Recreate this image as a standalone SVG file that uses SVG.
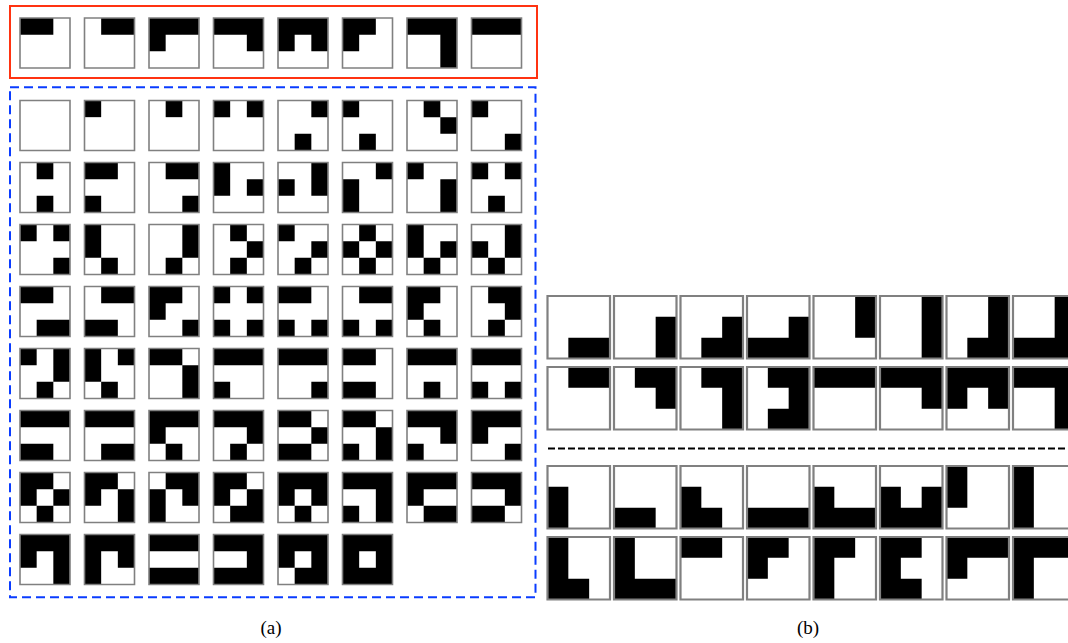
<svg xmlns="http://www.w3.org/2000/svg" width="1068" height="643" viewBox="0 0 1068 643">
<style>
.k{fill:#000}
.f{fill:none;stroke:#808080;stroke-width:1.6;vector-effect:non-scaling-stroke}
.fb{fill:none;stroke:#808080;stroke-width:2.2;vector-effect:non-scaling-stroke}
.lbl{font-family:"Liberation Serif",serif;font-size:19px;fill:#000;text-anchor:middle}
</style>
<rect width="1068" height="643" fill="#fff"/>
<g id="frames">
<rect x="10" y="6" width="527" height="72" fill="none" stroke="#ff3311" stroke-width="2"/>
<rect x="10" y="87.3" width="525.5" height="510" fill="none" stroke="#0a3cff" stroke-width="2" stroke-dasharray="9 5"/>
<line x1="548" y1="448.5" x2="1068" y2="448.5" stroke="#000" stroke-width="2" stroke-dasharray="7 3"/>
</g>
<!-- (a) red row -->
<g id="a-red-1" transform="translate(20,18) scale(16.6667)"><path class="k" d="M0 0h1v1h-1zM1 0h1v1h-1z"/><rect class="f" width="3" height="3"/></g>
<g id="a-red-2" transform="translate(84.5,18) scale(16.6667)"><path class="k" d="M1 0h1v1h-1zM2 0h1v1h-1z"/><rect class="f" width="3" height="3"/></g>
<g id="a-red-3" transform="translate(149,18) scale(16.6667)"><path class="k" d="M0 0h1v1h-1zM1 0h1v1h-1zM2 0h1v1h-1zM0 1h1v1h-1z"/><rect class="f" width="3" height="3"/></g>
<g id="a-red-4" transform="translate(213.5,18) scale(16.6667)"><path class="k" d="M0 0h1v1h-1zM1 0h1v1h-1zM2 0h1v1h-1zM2 1h1v1h-1z"/><rect class="f" width="3" height="3"/></g>
<g id="a-red-5" transform="translate(278,18) scale(16.6667)"><path class="k" d="M0 0h1v1h-1zM1 0h1v1h-1zM2 0h1v1h-1zM0 1h1v1h-1zM2 1h1v1h-1z"/><rect class="f" width="3" height="3"/></g>
<g id="a-red-6" transform="translate(342.5,18) scale(16.6667)"><path class="k" d="M0 0h1v1h-1zM1 0h1v1h-1zM0 1h1v1h-1z"/><rect class="f" width="3" height="3"/></g>
<g id="a-red-7" transform="translate(407,18) scale(16.6667)"><path class="k" d="M0 0h1v1h-1zM1 0h1v1h-1zM2 0h1v1h-1zM2 1h1v1h-1zM2 2h1v1h-1z"/><rect class="f" width="3" height="3"/></g>
<g id="a-red-8" transform="translate(471.5,18) scale(16.6667)"><path class="k" d="M0 0h1v1h-1zM1 0h1v1h-1zM2 0h1v1h-1z"/><rect class="f" width="3" height="3"/></g>
<!-- (a) blue row 1 -->
<g id="a-1-1" transform="translate(20,100.5) scale(16.6667)"><rect class="f" width="3" height="3"/></g>
<g id="a-1-2" transform="translate(84.5,100.5) scale(16.6667)"><path class="k" d="M0 0h1v1h-1z"/><rect class="f" width="3" height="3"/></g>
<g id="a-1-3" transform="translate(149,100.5) scale(16.6667)"><path class="k" d="M1 0h1v1h-1z"/><rect class="f" width="3" height="3"/></g>
<g id="a-1-4" transform="translate(213.5,100.5) scale(16.6667)"><path class="k" d="M0 0h1v1h-1zM2 0h1v1h-1z"/><rect class="f" width="3" height="3"/></g>
<g id="a-1-5" transform="translate(278,100.5) scale(16.6667)"><path class="k" d="M2 0h1v1h-1zM1 2h1v1h-1z"/><rect class="f" width="3" height="3"/></g>
<g id="a-1-6" transform="translate(342.5,100.5) scale(16.6667)"><path class="k" d="M0 0h1v1h-1zM1 2h1v1h-1z"/><rect class="f" width="3" height="3"/></g>
<g id="a-1-7" transform="translate(407,100.5) scale(16.6667)"><path class="k" d="M1 0h1v1h-1zM2 1h1v1h-1z"/><rect class="f" width="3" height="3"/></g>
<g id="a-1-8" transform="translate(471.5,100.5) scale(16.6667)"><path class="k" d="M0 0h1v1h-1zM2 2h1v1h-1z"/><rect class="f" width="3" height="3"/></g>
<!-- row 2 -->
<g id="a-2-1" transform="translate(20,162.5) scale(16.6667)"><path class="k" d="M1 0h1v1h-1zM1 2h1v1h-1z"/><rect class="f" width="3" height="3"/></g>
<g id="a-2-2" transform="translate(84.5,162.5) scale(16.6667)"><path class="k" d="M0 0h1v1h-1zM1 0h1v1h-1zM0 2h1v1h-1z"/><rect class="f" width="3" height="3"/></g>
<g id="a-2-3" transform="translate(149,162.5) scale(16.6667)"><path class="k" d="M1 0h1v1h-1zM2 0h1v1h-1zM2 2h1v1h-1z"/><rect class="f" width="3" height="3"/></g>
<g id="a-2-4" transform="translate(213.5,162.5) scale(16.6667)"><path class="k" d="M0 0h1v1h-1zM0 1h1v1h-1zM2 1h1v1h-1z"/><rect class="f" width="3" height="3"/></g>
<g id="a-2-5" transform="translate(278,162.5) scale(16.6667)"><path class="k" d="M2 0h1v1h-1zM0 1h1v1h-1zM2 1h1v1h-1z"/><rect class="f" width="3" height="3"/></g>
<g id="a-2-6" transform="translate(342.5,162.5) scale(16.6667)"><path class="k" d="M2 0h1v1h-1zM0 1h1v1h-1zM0 2h1v1h-1z"/><rect class="f" width="3" height="3"/></g>
<g id="a-2-7" transform="translate(407,162.5) scale(16.6667)"><path class="k" d="M0 0h1v1h-1zM2 1h1v1h-1zM2 2h1v1h-1z"/><rect class="f" width="3" height="3"/></g>
<g id="a-2-8" transform="translate(471.5,162.5) scale(16.6667)"><path class="k" d="M0 0h1v1h-1zM2 0h1v1h-1zM1 2h1v1h-1z"/><rect class="f" width="3" height="3"/></g>
<!-- row 3 -->
<g id="a-3-1" transform="translate(20,224.5) scale(16.6667)"><path class="k" d="M0 0h1v1h-1zM2 0h1v1h-1zM2 2h1v1h-1z"/><rect class="f" width="3" height="3"/></g>
<g id="a-3-2" transform="translate(84.5,224.5) scale(16.6667)"><path class="k" d="M0 0h1v1h-1zM0 1h1v1h-1zM1 2h1v1h-1z"/><rect class="f" width="3" height="3"/></g>
<g id="a-3-3" transform="translate(149,224.5) scale(16.6667)"><path class="k" d="M2 0h1v1h-1zM2 1h1v1h-1zM1 2h1v1h-1z"/><rect class="f" width="3" height="3"/></g>
<g id="a-3-4" transform="translate(213.5,224.5) scale(16.6667)"><path class="k" d="M1 0h1v1h-1zM2 1h1v1h-1zM1 2h1v1h-1z"/><rect class="f" width="3" height="3"/></g>
<g id="a-3-5" transform="translate(278,224.5) scale(16.6667)"><path class="k" d="M0 0h1v1h-1zM2 1h1v1h-1zM1 2h1v1h-1z"/><rect class="f" width="3" height="3"/></g>
<g id="a-3-6" transform="translate(342.5,224.5) scale(16.6667)"><path class="k" d="M1 0h1v1h-1zM0 1h1v1h-1zM2 1h1v1h-1zM1 2h1v1h-1z"/><rect class="f" width="3" height="3"/></g>
<g id="a-3-7" transform="translate(407,224.5) scale(16.6667)"><path class="k" d="M0 0h1v1h-1zM0 1h1v1h-1zM2 1h1v1h-1zM1 2h1v1h-1z"/><rect class="f" width="3" height="3"/></g>
<g id="a-3-8" transform="translate(471.5,224.5) scale(16.6667)"><path class="k" d="M2 0h1v1h-1zM0 1h1v1h-1zM2 1h1v1h-1zM1 2h1v1h-1z"/><rect class="f" width="3" height="3"/></g>
<!-- row 4 -->
<g id="a-4-1" transform="translate(20,286.5) scale(16.6667)"><path class="k" d="M0 0h1v1h-1zM1 0h1v1h-1zM1 2h1v1h-1zM2 2h1v1h-1z"/><rect class="f" width="3" height="3"/></g>
<g id="a-4-2" transform="translate(84.5,286.5) scale(16.6667)"><path class="k" d="M1 0h1v1h-1zM2 0h1v1h-1zM0 2h1v1h-1zM1 2h1v1h-1z"/><rect class="f" width="3" height="3"/></g>
<g id="a-4-3" transform="translate(149,286.5) scale(16.6667)"><path class="k" d="M0 0h1v1h-1zM1 0h1v1h-1zM0 1h1v1h-1zM2 2h1v1h-1z"/><rect class="f" width="3" height="3"/></g>
<g id="a-4-4" transform="translate(213.5,286.5) scale(16.6667)"><path class="k" d="M0 0h1v1h-1zM2 0h1v1h-1zM0 2h1v1h-1zM2 2h1v1h-1z"/><rect class="f" width="3" height="3"/></g>
<g id="a-4-5" transform="translate(278,286.5) scale(16.6667)"><path class="k" d="M0 0h1v1h-1zM1 0h1v1h-1zM0 2h1v1h-1zM2 2h1v1h-1z"/><rect class="f" width="3" height="3"/></g>
<g id="a-4-6" transform="translate(342.5,286.5) scale(16.6667)"><path class="k" d="M1 0h1v1h-1zM2 0h1v1h-1zM0 2h1v1h-1zM2 2h1v1h-1z"/><rect class="f" width="3" height="3"/></g>
<g id="a-4-7" transform="translate(407,286.5) scale(16.6667)"><path class="k" d="M0 0h1v1h-1zM1 0h1v1h-1zM0 1h1v1h-1zM1 2h1v1h-1z"/><rect class="f" width="3" height="3"/></g>
<g id="a-4-8" transform="translate(471.5,286.5) scale(16.6667)"><path class="k" d="M1 0h1v1h-1zM2 0h1v1h-1zM2 1h1v1h-1zM1 2h1v1h-1z"/><rect class="f" width="3" height="3"/></g>
<!-- row 5 -->
<g id="a-5-1" transform="translate(20,348.5) scale(16.6667)"><path class="k" d="M0 0h1v1h-1zM2 0h1v1h-1zM2 1h1v1h-1zM1 2h1v1h-1z"/><rect class="f" width="3" height="3"/></g>
<g id="a-5-2" transform="translate(84.5,348.5) scale(16.6667)"><path class="k" d="M0 0h1v1h-1zM2 0h1v1h-1zM0 1h1v1h-1zM1 2h1v1h-1z"/><rect class="f" width="3" height="3"/></g>
<g id="a-5-3" transform="translate(149,348.5) scale(16.6667)"><path class="k" d="M0 0h1v1h-1zM1 0h1v1h-1zM2 1h1v1h-1zM2 2h1v1h-1z"/><rect class="f" width="3" height="3"/></g>
<g id="a-5-4" transform="translate(213.5,348.5) scale(16.6667)"><path class="k" d="M0 0h1v1h-1zM1 0h1v1h-1zM2 0h1v1h-1zM0 2h1v1h-1z"/><rect class="f" width="3" height="3"/></g>
<g id="a-5-5" transform="translate(278,348.5) scale(16.6667)"><path class="k" d="M0 0h1v1h-1zM1 0h1v1h-1zM2 0h1v1h-1zM2 2h1v1h-1z"/><rect class="f" width="3" height="3"/></g>
<g id="a-5-6" transform="translate(342.5,348.5) scale(16.6667)"><path class="k" d="M0 0h1v1h-1zM1 0h1v1h-1zM0 2h1v1h-1zM1 2h1v1h-1z"/><rect class="f" width="3" height="3"/></g>
<g id="a-5-7" transform="translate(407,348.5) scale(16.6667)"><path class="k" d="M0 0h1v1h-1zM1 0h1v1h-1zM2 0h1v1h-1zM1 2h1v1h-1z"/><rect class="f" width="3" height="3"/></g>
<g id="a-5-8" transform="translate(471.5,348.5) scale(16.6667)"><path class="k" d="M0 0h1v1h-1zM1 0h1v1h-1zM2 0h1v1h-1zM0 2h1v1h-1zM2 2h1v1h-1z"/><rect class="f" width="3" height="3"/></g>
<!-- row 6 -->
<g id="a-6-1" transform="translate(20,410.5) scale(16.6667)"><path class="k" d="M0 0h1v1h-1zM1 0h1v1h-1zM2 0h1v1h-1zM0 2h1v1h-1zM1 2h1v1h-1z"/><rect class="f" width="3" height="3"/></g>
<g id="a-6-2" transform="translate(84.5,410.5) scale(16.6667)"><path class="k" d="M0 0h1v1h-1zM1 0h1v1h-1zM2 0h1v1h-1zM1 2h1v1h-1zM2 2h1v1h-1z"/><rect class="f" width="3" height="3"/></g>
<g id="a-6-3" transform="translate(149,410.5) scale(16.6667)"><path class="k" d="M0 0h1v1h-1zM1 0h1v1h-1zM2 0h1v1h-1zM0 1h1v1h-1zM1 2h1v1h-1z"/><rect class="f" width="3" height="3"/></g>
<g id="a-6-4" transform="translate(213.5,410.5) scale(16.6667)"><path class="k" d="M0 0h1v1h-1zM1 0h1v1h-1zM2 0h1v1h-1zM2 1h1v1h-1zM1 2h1v1h-1z"/><rect class="f" width="3" height="3"/></g>
<g id="a-6-5" transform="translate(278,410.5) scale(16.6667)"><path class="k" d="M0 0h1v1h-1zM1 0h1v1h-1zM2 1h1v1h-1zM0 2h1v1h-1zM1 2h1v1h-1z"/><rect class="f" width="3" height="3"/></g>
<g id="a-6-6" transform="translate(342.5,410.5) scale(16.6667)"><path class="k" d="M0 0h1v1h-1zM1 0h1v1h-1zM2 1h1v1h-1zM0 2h1v1h-1zM2 2h1v1h-1z"/><rect class="f" width="3" height="3"/></g>
<g id="a-6-7" transform="translate(407,410.5) scale(16.6667)"><path class="k" d="M0 0h1v1h-1zM1 0h1v1h-1zM2 0h1v1h-1zM2 1h1v1h-1zM0 2h1v1h-1z"/><rect class="f" width="3" height="3"/></g>
<g id="a-6-8" transform="translate(471.5,410.5) scale(16.6667)"><path class="k" d="M0 0h1v1h-1zM1 0h1v1h-1zM2 0h1v1h-1zM0 1h1v1h-1zM2 2h1v1h-1z"/><rect class="f" width="3" height="3"/></g>
<!-- row 7 -->
<g id="a-7-1" transform="translate(20,472.5) scale(16.6667)"><path class="k" d="M0 0h1v1h-1zM1 0h1v1h-1zM0 1h1v1h-1zM2 1h1v1h-1zM1 2h1v1h-1z"/><rect class="f" width="3" height="3"/></g>
<g id="a-7-2" transform="translate(84.5,472.5) scale(16.6667)"><path class="k" d="M0 0h1v1h-1zM1 0h1v1h-1zM0 1h1v1h-1zM2 1h1v1h-1zM2 2h1v1h-1z"/><rect class="f" width="3" height="3"/></g>
<g id="a-7-3" transform="translate(149,472.5) scale(16.6667)"><path class="k" d="M1 0h1v1h-1zM2 0h1v1h-1zM0 1h1v1h-1zM2 1h1v1h-1zM0 2h1v1h-1z"/><rect class="f" width="3" height="3"/></g>
<g id="a-7-4" transform="translate(213.5,472.5) scale(16.6667)"><path class="k" d="M0 0h1v1h-1zM1 0h1v1h-1zM0 1h1v1h-1zM2 1h1v1h-1zM1 2h1v1h-1zM2 2h1v1h-1z"/><rect class="f" width="3" height="3"/></g>
<g id="a-7-5" transform="translate(278,472.5) scale(16.6667)"><path class="k" d="M0 0h1v1h-1zM1 0h1v1h-1zM2 0h1v1h-1zM0 1h1v1h-1zM2 1h1v1h-1zM1 2h1v1h-1z"/><rect class="f" width="3" height="3"/></g>
<g id="a-7-6" transform="translate(342.5,472.5) scale(16.6667)"><path class="k" d="M0 0h1v1h-1zM1 0h1v1h-1zM2 0h1v1h-1zM2 1h1v1h-1zM0 2h1v1h-1zM2 2h1v1h-1z"/><rect class="f" width="3" height="3"/></g>
<g id="a-7-7" transform="translate(407,472.5) scale(16.6667)"><path class="k" d="M0 0h1v1h-1zM1 0h1v1h-1zM2 0h1v1h-1zM0 1h1v1h-1zM1 2h1v1h-1zM2 2h1v1h-1z"/><rect class="f" width="3" height="3"/></g>
<g id="a-7-8" transform="translate(471.5,472.5) scale(16.6667)"><path class="k" d="M0 0h1v1h-1zM1 0h1v1h-1zM2 0h1v1h-1zM2 1h1v1h-1zM0 2h1v1h-1zM1 2h1v1h-1z"/><rect class="f" width="3" height="3"/></g>
<!-- row 8 -->
<g id="a-8-1" transform="translate(20,534.5) scale(16.6667)"><path class="k" d="M0 0h1v1h-1zM1 0h1v1h-1zM2 0h1v1h-1zM0 1h1v1h-1zM2 1h1v1h-1zM2 2h1v1h-1z"/><rect class="f" width="3" height="3"/></g>
<g id="a-8-2" transform="translate(84.5,534.5) scale(16.6667)"><path class="k" d="M0 0h1v1h-1zM1 0h1v1h-1zM2 0h1v1h-1zM0 1h1v1h-1zM2 1h1v1h-1zM0 2h1v1h-1z"/><rect class="f" width="3" height="3"/></g>
<g id="a-8-3" transform="translate(149,534.5) scale(16.6667)"><path class="k" d="M0 0h1v1h-1zM1 0h1v1h-1zM2 0h1v1h-1zM0 2h1v1h-1zM1 2h1v1h-1zM2 2h1v1h-1z"/><rect class="f" width="3" height="3"/></g>
<g id="a-8-4" transform="translate(213.5,534.5) scale(16.6667)"><path class="k" d="M0 0h1v1h-1zM1 0h1v1h-1zM2 0h1v1h-1zM2 1h1v1h-1zM0 2h1v1h-1zM1 2h1v1h-1zM2 2h1v1h-1z"/><rect class="f" width="3" height="3"/></g>
<g id="a-8-5" transform="translate(278,534.5) scale(16.6667)"><path class="k" d="M0 0h1v1h-1zM1 0h1v1h-1zM2 0h1v1h-1zM0 1h1v1h-1zM2 1h1v1h-1zM1 2h1v1h-1zM2 2h1v1h-1z"/><rect class="f" width="3" height="3"/></g>
<g id="a-8-6" transform="translate(342.5,534.5) scale(16.6667)"><path class="k" d="M0 0h1v1h-1zM1 0h1v1h-1zM2 0h1v1h-1zM0 1h1v1h-1zM2 1h1v1h-1zM0 2h1v1h-1zM1 2h1v1h-1zM2 2h1v1h-1z"/><rect class="f" width="3" height="3"/></g>
<!-- (b) row 1 -->
<g id="b-1-1" transform="translate(547.5,296) scale(20.8333)"><path class="k" d="M1 2h1v1h-1zM2 2h1v1h-1z"/><rect class="fb" width="3" height="3"/></g>
<g id="b-1-2" transform="translate(614,296) scale(20.8333)"><path class="k" d="M2 1h1v1h-1zM2 2h1v1h-1z"/><rect class="fb" width="3" height="3"/></g>
<g id="b-1-3" transform="translate(680.5,296) scale(20.8333)"><path class="k" d="M2 1h1v1h-1zM1 2h1v1h-1zM2 2h1v1h-1z"/><rect class="fb" width="3" height="3"/></g>
<g id="b-1-4" transform="translate(747,296) scale(20.8333)"><path class="k" d="M2 1h1v1h-1zM0 2h1v1h-1zM1 2h1v1h-1zM2 2h1v1h-1z"/><rect class="fb" width="3" height="3"/></g>
<g id="b-1-5" transform="translate(813.5,296) scale(20.8333)"><path class="k" d="M2 0h1v1h-1zM2 1h1v1h-1z"/><rect class="fb" width="3" height="3"/></g>
<g id="b-1-6" transform="translate(880,296) scale(20.8333)"><path class="k" d="M2 0h1v1h-1zM2 1h1v1h-1zM2 2h1v1h-1z"/><rect class="fb" width="3" height="3"/></g>
<g id="b-1-7" transform="translate(946.5,296) scale(20.8333)"><path class="k" d="M2 0h1v1h-1zM2 1h1v1h-1zM1 2h1v1h-1zM2 2h1v1h-1z"/><rect class="fb" width="3" height="3"/></g>
<g id="b-1-8" transform="translate(1013,296) scale(20.8333)"><path class="k" d="M2 0h1v1h-1zM2 1h1v1h-1zM0 2h1v1h-1zM1 2h1v1h-1zM2 2h1v1h-1z"/><rect class="fb" width="3" height="3"/></g>
<!-- (b) row 2 -->
<g id="b-2-1" transform="translate(547.5,367) scale(20.8333)"><path class="k" d="M1 0h1v1h-1zM2 0h1v1h-1z"/><rect class="fb" width="3" height="3"/></g>
<g id="b-2-2" transform="translate(614,367) scale(20.8333)"><path class="k" d="M1 0h1v1h-1zM2 0h1v1h-1zM2 1h1v1h-1z"/><rect class="fb" width="3" height="3"/></g>
<g id="b-2-3" transform="translate(680.5,367) scale(20.8333)"><path class="k" d="M1 0h1v1h-1zM2 0h1v1h-1zM2 1h1v1h-1zM2 2h1v1h-1z"/><rect class="fb" width="3" height="3"/></g>
<g id="b-2-4" transform="translate(747,367) scale(20.8333)"><path class="k" d="M1 0h1v1h-1zM2 0h1v1h-1zM2 1h1v1h-1zM1 2h1v1h-1zM2 2h1v1h-1z"/><rect class="fb" width="3" height="3"/></g>
<g id="b-2-5" transform="translate(813.5,367) scale(20.8333)"><path class="k" d="M0 0h1v1h-1zM1 0h1v1h-1zM2 0h1v1h-1z"/><rect class="fb" width="3" height="3"/></g>
<g id="b-2-6" transform="translate(880,367) scale(20.8333)"><path class="k" d="M0 0h1v1h-1zM1 0h1v1h-1zM2 0h1v1h-1zM2 1h1v1h-1z"/><rect class="fb" width="3" height="3"/></g>
<g id="b-2-7" transform="translate(946.5,367) scale(20.8333)"><path class="k" d="M0 0h1v1h-1zM1 0h1v1h-1zM2 0h1v1h-1zM0 1h1v1h-1zM2 1h1v1h-1z"/><rect class="fb" width="3" height="3"/></g>
<g id="b-2-8" transform="translate(1013,367) scale(20.8333)"><path class="k" d="M0 0h1v1h-1zM1 0h1v1h-1zM2 0h1v1h-1zM2 1h1v1h-1zM2 2h1v1h-1z"/><rect class="fb" width="3" height="3"/></g>
<!-- (b) row 3 -->
<g id="b-3-1" transform="translate(547.5,466) scale(20.8333)"><path class="k" d="M0 1h1v1h-1zM0 2h1v1h-1z"/><rect class="fb" width="3" height="3"/></g>
<g id="b-3-2" transform="translate(614,466) scale(20.8333)"><path class="k" d="M0 2h1v1h-1zM1 2h1v1h-1z"/><rect class="fb" width="3" height="3"/></g>
<g id="b-3-3" transform="translate(680.5,466) scale(20.8333)"><path class="k" d="M0 1h1v1h-1zM0 2h1v1h-1zM1 2h1v1h-1z"/><rect class="fb" width="3" height="3"/></g>
<g id="b-3-4" transform="translate(747,466) scale(20.8333)"><path class="k" d="M0 2h1v1h-1zM1 2h1v1h-1zM2 2h1v1h-1z"/><rect class="fb" width="3" height="3"/></g>
<g id="b-3-5" transform="translate(813.5,466) scale(20.8333)"><path class="k" d="M0 1h1v1h-1zM0 2h1v1h-1zM1 2h1v1h-1zM2 2h1v1h-1z"/><rect class="fb" width="3" height="3"/></g>
<g id="b-3-6" transform="translate(880,466) scale(20.8333)"><path class="k" d="M0 1h1v1h-1zM2 1h1v1h-1zM0 2h1v1h-1zM1 2h1v1h-1zM2 2h1v1h-1z"/><rect class="fb" width="3" height="3"/></g>
<g id="b-3-7" transform="translate(946.5,466) scale(20.8333)"><path class="k" d="M0 0h1v1h-1zM0 1h1v1h-1z"/><rect class="fb" width="3" height="3"/></g>
<g id="b-3-8" transform="translate(1013,466) scale(20.8333)"><path class="k" d="M0 0h1v1h-1zM0 1h1v1h-1zM0 2h1v1h-1z"/><rect class="fb" width="3" height="3"/></g>
<!-- (b) row 4 -->
<g id="b-4-1" transform="translate(547.5,537) scale(20.8333)"><path class="k" d="M0 0h1v1h-1zM0 1h1v1h-1zM0 2h1v1h-1zM1 2h1v1h-1z"/><rect class="fb" width="3" height="3"/></g>
<g id="b-4-2" transform="translate(614,537) scale(20.8333)"><path class="k" d="M0 0h1v1h-1zM0 1h1v1h-1zM0 2h1v1h-1zM1 2h1v1h-1zM2 2h1v1h-1z"/><rect class="fb" width="3" height="3"/></g>
<g id="b-4-3" transform="translate(680.5,537) scale(20.8333)"><path class="k" d="M0 0h1v1h-1zM1 0h1v1h-1z"/><rect class="fb" width="3" height="3"/></g>
<g id="b-4-4" transform="translate(747,537) scale(20.8333)"><path class="k" d="M0 0h1v1h-1zM1 0h1v1h-1zM0 1h1v1h-1z"/><rect class="fb" width="3" height="3"/></g>
<g id="b-4-5" transform="translate(813.5,537) scale(20.8333)"><path class="k" d="M0 0h1v1h-1zM1 0h1v1h-1zM0 1h1v1h-1zM0 2h1v1h-1z"/><rect class="fb" width="3" height="3"/></g>
<g id="b-4-6" transform="translate(880,537) scale(20.8333)"><path class="k" d="M0 0h1v1h-1zM1 0h1v1h-1zM0 1h1v1h-1zM0 2h1v1h-1zM1 2h1v1h-1z"/><rect class="fb" width="3" height="3"/></g>
<g id="b-4-7" transform="translate(946.5,537) scale(20.8333)"><path class="k" d="M0 0h1v1h-1zM1 0h1v1h-1zM2 0h1v1h-1zM0 1h1v1h-1z"/><rect class="fb" width="3" height="3"/></g>
<g id="b-4-8" transform="translate(1013,537) scale(20.8333)"><path class="k" d="M0 0h1v1h-1zM1 0h1v1h-1zM2 0h1v1h-1zM0 1h1v1h-1zM0 2h1v1h-1z"/><rect class="fb" width="3" height="3"/></g>
<g id="labels">
<text class="lbl" x="271" y="634">(a)</text>
<text class="lbl" x="808" y="634">(b)</text>
</g>
</svg>
